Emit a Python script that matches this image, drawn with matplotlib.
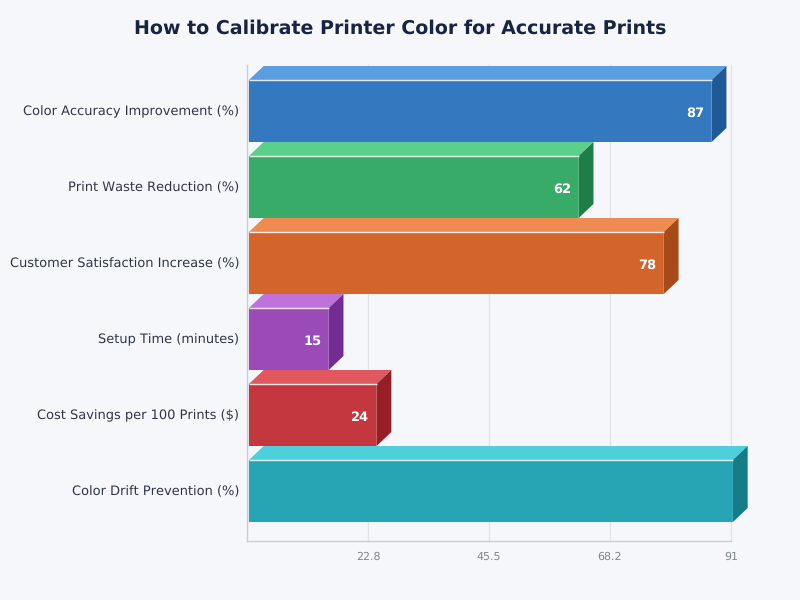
import matplotlib
matplotlib.use("Agg")
import matplotlib.pyplot as plt
from matplotlib.patches import Polygon
from matplotlib.transforms import ScaledTranslation

plt.rcParams["text.hinting"] = "no_hinting"
plt.rcParams["text.hinting_factor"] = 1

categories = ["Color Accuracy Improvement (%)", "Print Waste Reduction (%)",
              "Customer Satisfaction Increase (%)", "Setup Time (minutes)",
              "Cost Savings per 100 Prints ($)", "Color Drift Prevention (%)"]
values = [87, 62, 78, 15, 24, 91]
front_colors = ["#3478c0", "#38ab69", "#d3652c", "#9b4bb8", "#c4373e", "#27a5b5"]
top_colors = ["#5a9ee0", "#5bd08c", "#ee8b50", "#be72da", "#e0575e", "#4ecfdc"]
side_colors = ["#1f5a96", "#1f7d48", "#a84a18", "#722c93", "#961e24", "#157c89"]
xticks = [22.8, 45.5, 68.2, 91]
title = "How to Calibrate Printer Color for Accurate Prints"

BG = "#f6f7fb"
W, H = 800, 600
L, R, T, B = 247, 731, 65, 541
fig = plt.figure(figsize=(8, 6), dpi=100, facecolor=BG)
ax = fig.add_axes([L / W, 1 - B / H, (R - L) / W, (B - T) / H], facecolor=BG)
ax.set_xlim(0, 91)
ax.set_ylim((B - 111) / 76, (T - 111) / 76)

depth_x = 14.8
depth_y = 14
offset = 1.9
height = 62 / 76
dx = depth_x * 91 / (R - L)
dy = depth_y / 76
x0 = offset * 91 / (R - L)

ax.set_axisbelow(True)
ax.xaxis.grid(True, color="#e1e4ea", linewidth=1, clip_on=False)
ax.yaxis.grid(False)
for s in ("top", "right"):
    ax.spines[s].set_visible(False)
for s in ("left", "bottom"):
    ax.spines[s].set_color("#c9cdd4")
    ax.spines[s].set_linewidth(1)

for i, (v, fc, tc, sc) in enumerate(zip(values, front_colors, top_colors, side_colors)):
    xe = x0 + v
    yt, yb = i - height / 2, i + height / 2
    ax.add_patch(Polygon([(x0, yt), (x0 + dx, yt - dy), (xe + dx, yt - dy), (xe, yt)],
                         closed=True, facecolor=tc, edgecolor="none", zorder=3, clip_on=False))
    ax.add_patch(Polygon([(xe, yt), (xe + dx, yt - dy), (xe + dx, yb - dy), (xe, yb)],
                         closed=True, facecolor=sc, edgecolor="none", zorder=3, clip_on=False))
    ax.barh(i, v, left=x0, height=height, color=fc, edgecolor="none", zorder=4, clip_on=False,
            snap=False)
    ax.plot([x0, xe], [yt, yt], color="white", alpha=0.85, linewidth=1, zorder=5,
            solid_capstyle="butt", clip_on=False)
    ax.annotate(str(v), (xe, i), xytext=(-7.5, -2.5), textcoords="offset pixels",
                ha="right", va="center", color="white", fontsize=9.6, fontweight="bold", zorder=6)

ax.set_yticks(range(len(categories)))
ax.set_yticklabels(categories, fontsize=9.45, color="#2d3748")
ax.set_xticks(xticks)
ax.set_xticklabels([f"{t:g}" for t in xticks], fontsize=8, color="#7f8696")
ax.tick_params(axis="both", length=0)
ax.tick_params(axis="y", pad=5.5)
ax.tick_params(axis="x", pad=7.5)
shift = ScaledTranslation(0, 1 / fig.dpi, fig.dpi_scale_trans)
for lab in ax.get_yticklabels():
    lab.set_transform(lab.get_transform() + shift)

fig.text(0.5, 1 - 28 / H, title, ha="center", va="center", fontsize=14, fontweight="bold", color="#172444")
fig.savefig("out.png", dpi=100, facecolor=BG)
